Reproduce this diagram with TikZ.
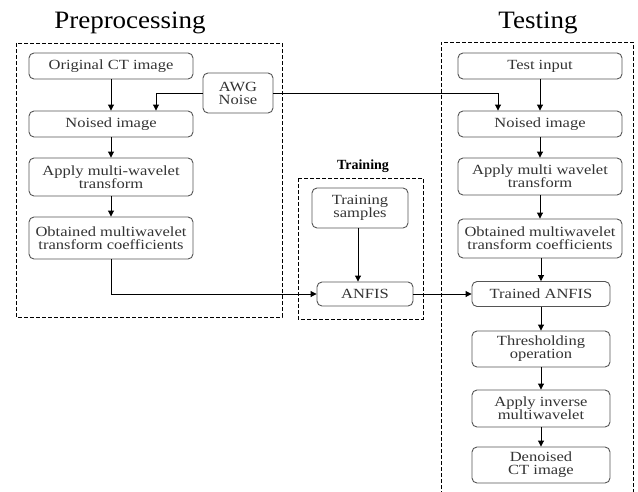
\documentclass[tikz,border=0pt]{standalone}
\usepackage{fontspec}
\setmainfont{Liberation Serif}
\newfontfamily\titlefont[FakeStretch=1.08]{Liberation Serif}
\newfontfamily\boxfont[FakeStretch=1.18]{Liberation Serif}
\usetikzlibrary{arrows.meta}
\definecolor{boxline}{HTML}{555555}
\definecolor{boxtext}{HTML}{333333}
\tikzset{
  procbox/.style={draw=boxline, line width=0.9pt, rounded corners=5pt,
    align=center, inner sep=0pt, text=boxtext,
    font=\boxfont\fontsize{14}{13}\selectfont},
  widebox/.style={procbox, minimum width=164pt},
  narrowbox/.style={procbox, minimum width=138pt},
  groupframe/.style={draw=black, line width=1pt, dash pattern=on 4pt off 2pt},
  arr/.style={draw=black, line width=0.9pt, -{Triangle[length=6pt,width=6pt]}},
  grouptitle/.style={font=\titlefont\fontsize{25}{25}\selectfont, anchor=base},
}
\begin{document}
\begin{tikzpicture}[x=1pt,y=-1pt]
\useasboundingbox (0,0) rectangle (638,491);

% group titles
\node[grouptitle] (tpre) at (130,28) {Preprocessing};
\node[grouptitle] (ttest) at (538,28) {Testing};
\node[font=\bfseries\fontsize{14}{14}\selectfont] (ttrain) at (363,166) {Training};

% group frames
\draw[groupframe] (16,43) rectangle (282,317);
\draw[groupframe] (298,178) rectangle (423,319);
\draw[groupframe] (441,495) -- (441,42) -- (633,42) -- (633,495);

% preprocessing
\node[widebox, minimum height=26pt] (orig)  at (111,66)  {Original CT image};
\node[widebox, minimum height=26pt] (noisL) at (111,124) {Noised image};
\node[widebox, minimum height=38pt] (applyL) at (111,177) {Apply multi-wavelet\\transform};
\node[widebox, minimum height=42pt] (obtL) at (111,238) {Obtained multiwavelet\\transform coefficients};
\node[procbox, minimum width=70pt, minimum height=40pt] (awg) at (238,93) {AWG\\Noise};

% training
\node[procbox, minimum width=96pt, minimum height=40pt] (samp) at (360,208) {Training\\samples};
\node[procbox, minimum width=96pt, minimum height=24pt] (anfis) at (365,294) {ANFIS};

% testing
\node[widebox, minimum height=26pt] (test)  at (540,66)  {Test input};
\node[widebox, minimum height=26pt] (noisR) at (540,124) {Noised image};
\node[widebox, minimum height=37pt] (applyR) at (540,176.5) {Apply multi wavelet\\transform};
\node[widebox, minimum height=39pt] (obtR) at (540,238.5) {Obtained multiwavelet\\transform coefficients};
\node[narrowbox, minimum height=25pt] (trained) at (541,294) {Trained ANFIS};
\node[narrowbox, minimum height=36pt] (thresh) at (541,349) {Thresholding\\operation};
\node[narrowbox, minimum height=37pt] (inv) at (541,408.5) {Apply inverse\\multiwavelet};
\node[narrowbox, minimum height=36pt] (den) at (541,465) {Denoised\\CT image};

% connectors
\draw[arr] (orig) -- (noisL);
\draw[arr] (noisL) -- (applyL);
\draw[arr] (applyL) -- (obtL);
\draw[arr] (awg.west) -| ([xshift=45pt]noisL.north);
\draw[arr] (awg.east) -| ([xshift=-42pt]noisR.north);
\draw[arr] (obtL.south) |- (anfis.west);
\draw[arr] ([xshift=-2pt]samp.south) -- ([xshift=-2pt]samp.south |- anfis.north);
\draw[arr] (anfis.east) -- (trained.west);
\draw[arr] (test) -- (noisR);
\draw[arr] (noisR) -- (applyR);
\draw[arr] (applyR) -- (obtR);
\draw[arr] (obtR.south -| trained.north) -- (trained.north);
\draw[arr] (trained) -- (thresh);
\draw[arr] (thresh) -- (inv);
\draw[arr] (inv) -- (den);
\end{tikzpicture}
\end{document}
